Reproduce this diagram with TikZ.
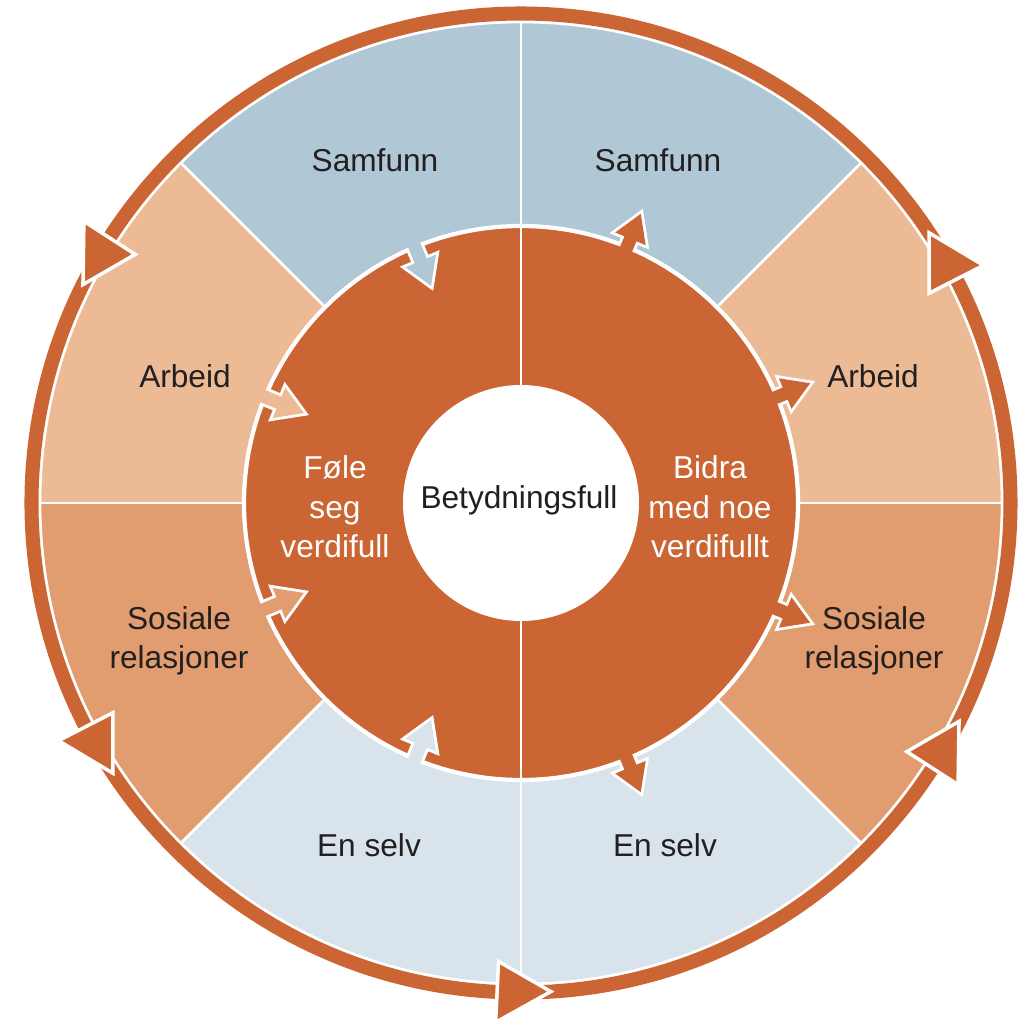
\documentclass[tikz,border=0pt]{standalone}
\usepackage{fontspec}
\setmainfont{Liberation Sans}

\definecolor{rust}{HTML}{CB6634}
\definecolor{samfunn}{HTML}{B0C7D6}
\definecolor{arbeid}{HTML}{ECBB96}
\definecolor{sosial}{HTML}{E19D70}
\definecolor{selv}{HTML}{D8E3EB}
\definecolor{ink}{HTML}{231F20}

\tikzset{
  ringtext/.style={font=\fontsize{9}{11.2}\selectfont, text=ink, align=center},
  disktext/.style={ringtext, text=white},
  divider/.style={white, line width=0.8pt},
  halo/.style={white, line width=1.6pt},
}
% block arrows along the x axis, rotated into place
\newcommand{\inarrow}{(2.95,-0.065) -- (2.62,-0.065) -- (2.62,-0.165) -- (2.35,0) -- (2.62,0.165) -- (2.62,0.065) -- (2.95,0.065) -- cycle}
\newcommand{\outarrow}{(2.60,-0.065) -- (2.86,-0.065) -- (2.86,-0.165) -- (3.13,0) -- (2.86,0.165) -- (2.86,0.065) -- (2.60,0.065) -- cycle}

\begin{document}
\begin{tikzpicture}
  \useasboundingbox (-5.21,-5.21) rectangle (5.09,5.03);

  % sectors
  \begin{scope}
    \clip (0,0) circle (4.81);
    \foreach \a/\col in {0/arbeid,45/samfunn,90/samfunn,135/arbeid,180/sosial,225/selv,270/selv,315/sosial}
      \fill[\col] (0,0) -- (\a:6) -- (\a+45:6) -- cycle;
    \foreach \a in {0,45,...,315}
      \draw[divider] (0,0) -- (\a:6);
  \end{scope}

  % outward arrows, white edge first
  \foreach \a in {67.5,22.5,-22.5,-67.5}
    \draw[halo, rotate=\a] \outarrow;

  % inner disk
  \fill[rust] (0,0) circle (2.77);
  \draw[white, line width=1.2pt] (0,0) circle (2.77);
  \draw[white, line width=0.6pt] (0,1.18) -- (0,2.77) (0,-1.18) -- (0,-2.77);

  % inward arrows
  \begin{scope}
    \clip (0,0) circle (2.77);
    \foreach \a in {112.5,157.5,202.5,247.5}
      \draw[halo, rotate=\a] \inarrow;
  \end{scope}
  \foreach \a/\col in {112.5/samfunn,157.5/arbeid,202.5/sosial,247.5/selv}
    \fill[\col, rotate=\a] \inarrow;
  \foreach \a in {67.5,22.5,-22.5,-67.5}
    \fill[rust, rotate=\a] \outarrow;

  \fill[white] (0,0) circle (1.18);

  % labels
  \node[ringtext] (samfunnL) at (-1.46,3.43) {Samfunn};
  \node[ringtext] (samfunnR) at (1.37,3.43) {Samfunn};
  \node[ringtext] (arbeidL) at (-3.36,1.27) {Arbeid};
  \node[ringtext] (arbeidR) at (3.52,1.27) {Arbeid};
  \node[ringtext] (sosialL) at (-3.42,-1.38) {Sosiale\\relasjoner};
  \node[ringtext] (sosialR) at (3.53,-1.38) {Sosiale\\relasjoner};
  \node[ringtext] (selvL) at (-1.52,-3.42) {En selv};
  \node[ringtext] (selvR) at (1.44,-3.42) {En selv};
  \node[disktext] (foele) at (-1.86,-0.04) {Føle\\seg\\verdifull};
  \node[disktext] (bidra) at (1.89,-0.04) {Bidra\\med noe\\verdifullt};
  \node[ringtext] (kjerne) at (-0.02,0.03) {Betydningsfull};

  % outer ring
  \draw[white, line width=5.6pt] (0,0) circle (4.895);
  \draw[rust, line width=4pt] (0,0) circle (4.895);
  \foreach \a in {33.5,153.5,213.5,273.5,333.5}
    \filldraw[fill=rust, draw=white, line width=1pt] (\a:4.895) -- (\a-6.3:5.2) -- (\a-6.3:4.59) -- cycle;
\end{tikzpicture}
\end{document}
